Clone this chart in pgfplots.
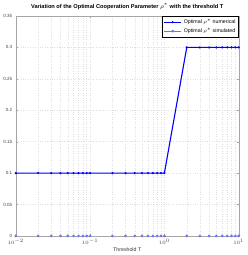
\documentclass[border=0pt]{standalone}
\usepackage{fontspec}
\setmainfont{Liberation Sans}
\usepackage{pgfplots}
\pgfplotsset{compat=1.18}
\definecolor{numblue}{RGB}{0,0,255}
\definecolor{simblue}{RGB}{110,110,255}
\begin{document}
\begin{tikzpicture}
\begin{axis}[
  scale only axis,
  width=221pt, height=218pt,
  xmode=log,
  xmin=0.01, xmax=10,
  ymin=0, ymax=0.35,
  ytick={0,0.05,0.1,0.15,0.2,0.25,0.3,0.35},
  yticklabels={0,0.05,0.1,0.15,0.2,0.25,0.3,0.35},
  xtick={0.01,0.1,1,10},
  xticklabels={$10^{-2}$,$10^{-1}$,$10^{0}$,$10^{1}$},
  tick label style={font=\fontsize{4.5}{5}\selectfont, color=black!75},
  grid=both,
  major grid style={dotted, gray!25},
  minor grid style={dotted, gray!25},
  minor y tick num=0,
  axis line style={gray!70},
  tick style={gray!70},
  tick align=inside,
  major tick length=2pt,
  minor tick length=1pt,
  title={\textbf{Variation of the Optimal Cooperation Parameter $\rho^{*}$ with the threshold T}},
  title style={font=\fontsize{5.6}{6}\selectfont, yshift=-3pt},
  xlabel={Threshold T},
  xlabel style={font=\fontsize{5.2}{6}\selectfont, yshift=4pt, color=black!80},
  legend style={font=\fontsize{5.2}{6}\selectfont, at={(1,1)}, anchor=north east, draw=black, inner sep=1pt, row sep=-1pt, legend cell align=left},
]
\addplot[numblue, line width=1.1pt, mark=*, mark size=0.45pt] coordinates {
(0.01,0.1)(0.02,0.1)(0.03,0.1)(0.04,0.1)(0.05,0.1)(0.06,0.1)(0.07,0.1)(0.08,0.1)(0.09,0.1)
(0.1,0.1)(0.2,0.1)(0.3,0.1)(0.4,0.1)(0.5,0.1)(0.6,0.1)(0.7,0.1)(0.8,0.1)(0.9,0.1)
(1,0.1)(2,0.3)(3,0.3)(4,0.3)(5,0.3)(6,0.3)(7,0.3)(8,0.3)(9,0.3)(10,0.3)
};
\addlegendentry{Optimal $\rho^{*}$ numerical}
\addplot[simblue, line width=0.8pt, mark=o, mark size=0.9pt] coordinates {
(0.01,0)(0.02,0)(0.03,0)(0.04,0)(0.05,0)(0.06,0)(0.07,0)(0.08,0)(0.09,0)
(0.1,0)(0.2,0)(0.3,0)(0.4,0)(0.5,0)(0.6,0)(0.7,0)(0.8,0)(0.9,0)
(1,0)(2,0)(3,0)(4,0)(5,0)(6,0)(7,0)(8,0)(9,0)(10,0)
};
\addlegendentry{Optimal $\rho^{*}$ simulated}
\end{axis}
\end{tikzpicture}
\end{document}
